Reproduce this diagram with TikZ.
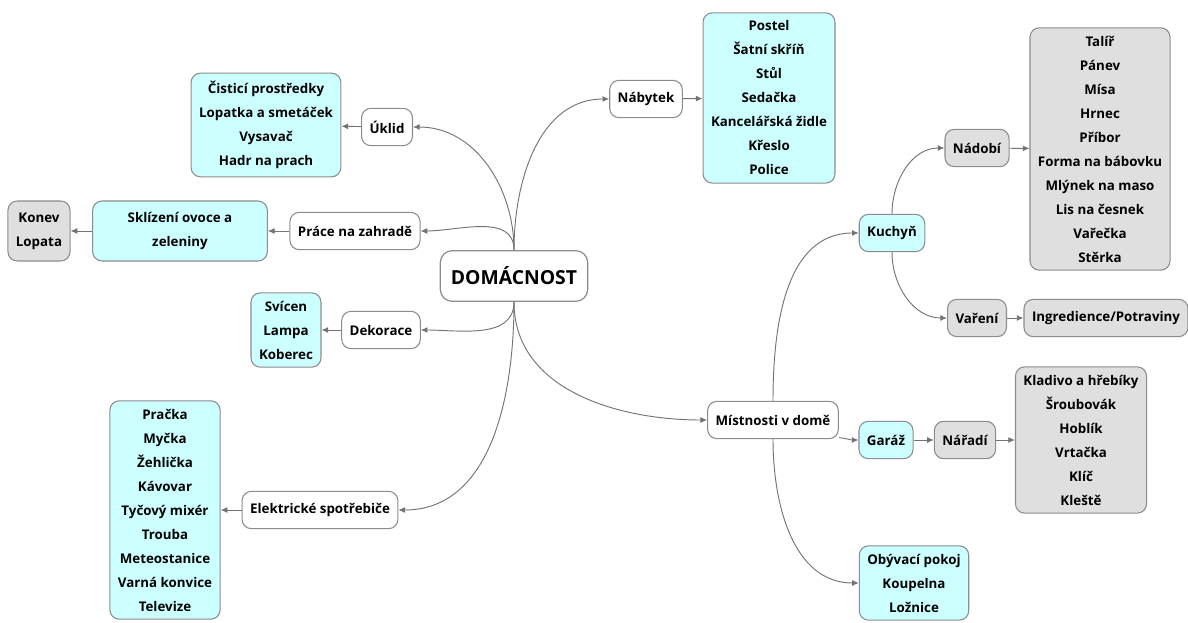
\documentclass[tikz,border=0pt]{standalone}
\usepackage{fontspec}
\setmainfont{Open Sans}
\usepackage{tikz}
\usetikzlibrary{arrows.meta}

\definecolor{lightcyan}{HTML}{CCFFFF}
\definecolor{lightgrey}{HTML}{DFDFDF}

\begin{document}
\begin{tikzpicture}[
  x=0.75pt, y=0.75pt,
  topic/.style={draw=black!45, line width=0.8pt, rounded corners=7pt, align=center, inner xsep=6pt, inner ysep=6pt, minimum height=28pt, font=\fontsize{10}{18}\selectfont\bfseries, fill=#1},
  topic/.default=white,
  rootbox/.style={draw=black!45, line width=0.9pt, rounded corners=9pt, inner xsep=8pt, minimum height=38pt, font=\fontsize{14.5}{17}\selectfont\bfseries, fill=white},
  arr/.style={-{Latex[length=5pt,width=4.5pt]}, draw=black!55, line width=0.7pt},
]
\useasboundingbox (0,0) rectangle (1188,-623);

% Root
\node[rootbox] (home) at (514,-276) {DOMÁCNOST};

% Left branches
\node[topic] (uklid) at (387,-127) {Úklid};
\node[topic=lightcyan] (uklidlist) at (266,-125) {Čisticí prostředky\\Lopatka a smetáček\\Vysavač\\Hadr na prach};
\node[topic] (zahrada) at (355,-231) {Práce na zahradě};
\node[topic=lightcyan, minimum width=131pt, minimum height=45pt] (sklizeni) at (180,-231) {Sklízení ovoce a\\zeleniny};
\node[topic=lightgrey, minimum height=45pt] (zahradnici) at (39,-231) {Konev\\Lopata};
\node[topic] (dekorace) at (381,-330) {Dekorace};
\node[topic=lightcyan] (dekorlist) at (286,-330) {Svícen\\Lampa\\Koberec};
\node[topic] (spotrebice) at (320,-510) {Elektrické spotřebiče};
\node[topic=lightcyan] (spotrlist) at (165,-510) {Pračka\\Myčka\\Žehlička\\Kávovar\\Tyčový mixér\\Trouba\\Meteostanice\\Varná konvice\\Televize};

% Right branches
\node[topic] (nabytek) at (646,-99) {Nábytek};
\node[topic=lightcyan] (nabyteklist) at (769,-98) {Postel\\Šatní skříň\\Stůl\\Sedačka\\Kancelářská židle\\Křeslo\\Police};
\node[topic] (mistnosti) at (773,-420) {Místnosti v domě};
\node[topic=lightcyan] (kuchyn) at (892,-233) {Kuchyň};
\node[topic=lightgrey] (nadobi) at (977,-148) {Nádobí};
\node[topic=lightgrey, minimum width=104pt] (nadobilist) at (1100,-149) {Talíř\\Pánev\\Mísa\\Hrnec\\Příbor\\Forma na bábovku\\Mlýnek na maso\\Lis na česnek\\Vařečka\\Stěrka};
\node[topic=lightgrey] (vareni) at (977,-318) {Vaření};
\node[topic=lightgrey] (potraviny) at (1106,-318) {Ingredience/Potraviny};
\node[topic=lightcyan] (garaz) at (886,-440) {Garáž};
\node[topic=lightgrey] (naradi) at (965,-440) {Nářadí};
\node[topic=lightgrey] (naradilist) at (1081,-440) {Kladivo a hřebíky\\Šroubovák\\Hoblík\\Vrtačka\\Klíč\\Kleště};
\node[topic=lightcyan] (pokoje) at (914,-583) {Obývací pokoj\\Koupelna\\Ložnice};

% Curved links from the root
\draw[arr] (home.north) to[out=90, in=0] (uklid.east);
\draw[arr] (home.north) to[out=90, in=180] (nabytek.west);
\draw[arr] (home.north) to[out=90, in=0] (zahrada.east);
\draw[arr] (home.south) to[out=-90, in=0] (dekorace.east);
\draw[arr] (home.south) to[out=-90, in=0] (spotrebice.east);
\draw[arr] (home.south) to[out=-90, in=180] (mistnosti.west);

% Rooms
\draw[arr] (mistnosti.north) to[out=90, in=180] (kuchyn.west);
\draw[arr] (mistnosti.south) to[out=-90, in=180] (pokoje.west);
\draw[arr] (mistnosti.-15) to[out=-5, in=180] (garaz.west);
\draw[arr] (kuchyn.north) to[out=90, in=180] (nadobi.west);
\draw[arr] (kuchyn.south) to[out=-90, in=180] (vareni.west);

% Straight links
\draw[arr] (uklid) -- (uklidlist);
\draw[arr] (zahrada) -- (sklizeni);
\draw[arr] (sklizeni) -- (zahradnici);
\draw[arr] (dekorace) -- (dekorlist);
\draw[arr] (spotrebice) -- (spotrlist);
\draw[arr] (nabytek) -- (nabyteklist);
\draw[arr] (nadobi) -- (nadobilist);
\draw[arr] (vareni) -- (potraviny);
\draw[arr] (garaz) -- (naradi);
\draw[arr] (naradi) -- (naradilist);

\end{tikzpicture}
\end{document}
